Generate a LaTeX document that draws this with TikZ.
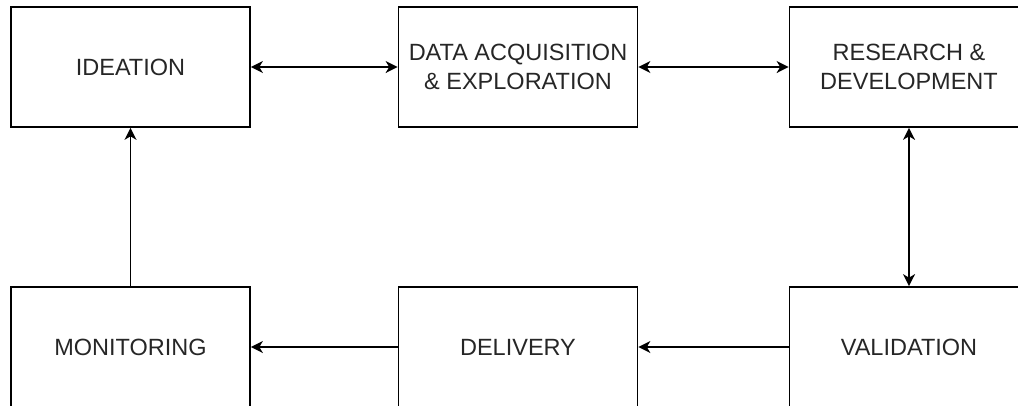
\documentclass[tikz,border=0pt]{standalone}
\usepackage{fontspec}
\setmainfont{Liberation Sans}
\usetikzlibrary{arrows.meta}
\begin{document}
\begin{tikzpicture}[x=1pt,y=-1pt,
  box/.style={draw, line width=1.7pt, minimum width=239pt, minimum height=120pt, inner sep=0pt, align=center, font=\fontsize{23.5}{29}\selectfont, text=black!85},
  conn/.style={line width=1.7pt, arrows={-Stealth[length=12pt, width=12pt, inset=3.5pt]}},
  biconn/.style={line width=1.7pt, arrows={Stealth[length=12pt, width=12pt, inset=3.5pt]-Stealth[length=12pt, width=12pt, inset=3.5pt]}}]
\useasboundingbox (0,0) rectangle (1018,405);
\node[box] (ideation) at (130.5,67) {IDEATION};
\node[box] (data) at (518,67) {DATA ACQUISITION\\\& EXPLORATION};
\node[box] (research) at (909,67) {RESEARCH \&\\DEVELOPMENT};
\node[box] (monitoring) at (130.5,347) {MONITORING};
\node[box] (delivery) at (518,347) {DELIVERY};
\node[box] (validation) at (909,347) {VALIDATION};
\draw[biconn] (ideation) -- (data);
\draw[biconn] (data) -- (research);
\draw[biconn] (research) -- (validation);
\draw[conn] (validation) -- (delivery);
\draw[conn] (delivery) -- (monitoring);
\draw[conn] (monitoring) -- (ideation);
\end{tikzpicture}
\end{document}
